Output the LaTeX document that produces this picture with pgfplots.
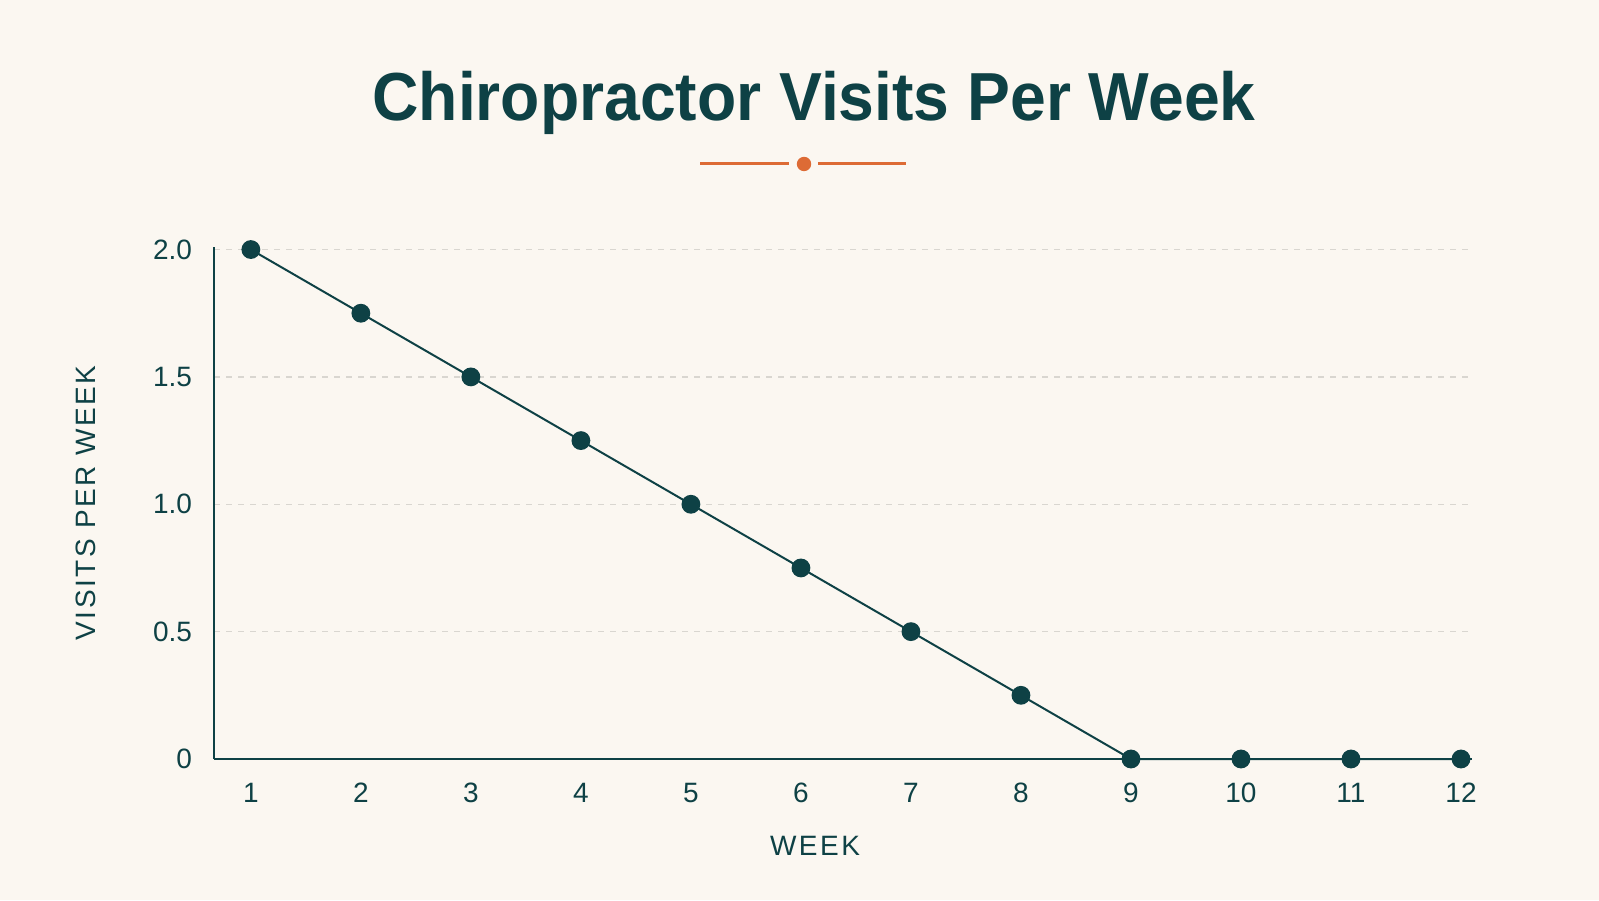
\documentclass[border=0pt]{standalone}
\usepackage{pgfplots}
\pgfplotsset{compat=1.18}
\usepackage{fontspec}
\setmainfont{Liberation Sans}
\newfontfamily\titlefont[FakeStretch=0.945]{Liberation Sans}
\newfontfamily\labelfont[LetterSpace=9]{Liberation Sans}
\definecolor{bg}{HTML}{FBF7F1}
\definecolor{teal}{HTML}{0E4145}
\definecolor{orn}{HTML}{DD6B35}
\definecolor{gridc}{HTML}{D9D6D0}
\begin{document}
\begin{tikzpicture}
\fill[bg] (0,0) rectangle (799.5pt,450pt);
\node[font=\titlefont\bfseries\fontsize{34}{38}\selectfont, text=teal, anchor=base] at (407pt,389.5pt) {Chiropractor Visits Per Week};
\draw[orn, line width=1.5pt] (350pt,368pt) -- (394.5pt,368pt);
\draw[orn, line width=1.5pt] (409pt,368pt) -- (453pt,368pt);
\fill[orn] (402pt,368pt) circle (3.6pt);
\begin{axis}[
  at={(107pt,70.5pt)}, anchor=south west,
  width=629pt, height=256pt, scale only axis,
  xmin=0.665, xmax=12.1, ymin=0, ymax=2.01,
  axis lines=left,
  axis line style={teal, line width=1.2pt, -},
  xtick={1,...,12},
  ytick={0,0.5,1,1.5,2},
  yticklabels={0,0.5,1.0,1.5,2.0},
  major tick length=0pt,
  tick label style={font=\fontsize{14}{16}\selectfont, text=teal},
  /pgf/number format/assume math mode=true,
  xticklabel style={yshift=-8.5pt},
  yticklabel style={xshift=-7.5pt},
  ymajorgrids,
  grid style={gridc, dashed, line width=0.6pt},
  xlabel={\labelfont WEEK},
  ylabel={\labelfont VISITS PER WEEK},
  label style={font=\fontsize{14}{16}\selectfont, text=teal},
  xlabel style={yshift=-10pt, xshift=-14pt},
  ylabel style={yshift=22pt},
  clip=false,
]
\addplot[teal, line width=1pt, mark=*, mark size=4.2pt, mark options={fill=teal, draw=teal}]
  coordinates {(1,2) (2,1.75) (3,1.5) (4,1.25) (5,1) (6,0.75) (7,0.5) (8,0.25) (9,0) (10,0) (11,0) (12,0)};
\end{axis}
\end{tikzpicture}
\end{document}
